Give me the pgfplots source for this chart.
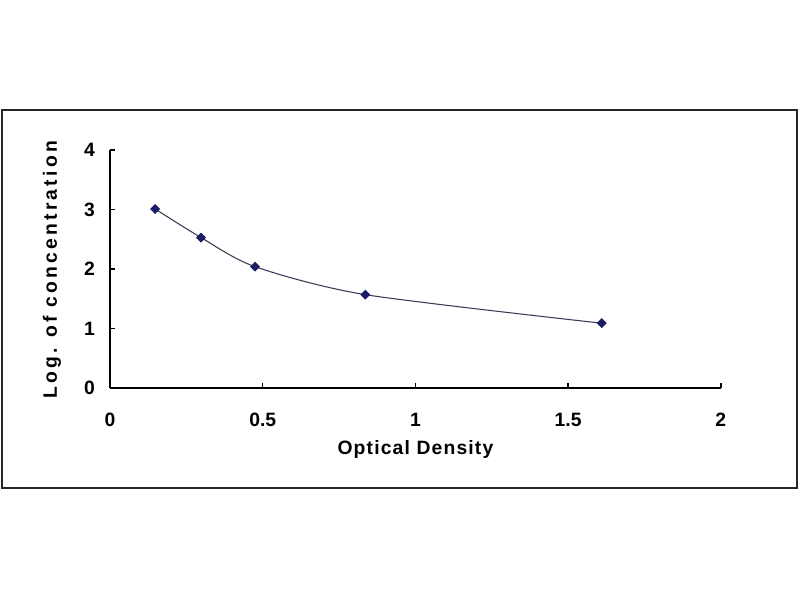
\documentclass[border=0pt]{standalone}
\usepackage{fontspec}
\setmainfont{Liberation Sans}
\newfontfamily\xlabfont[LetterSpace=6]{Liberation Sans}
\newfontfamily\ylabfont[LetterSpace=16.5]{Liberation Sans}
\usepackage{pgfplots}
\pgfplotsset{compat=1.18}
\definecolor{navy}{HTML}{1C1C66}
\definecolor{curve}{HTML}{3A3A55}
\begin{document}
\begin{tikzpicture}[x=0.02cm,y=0.02cm]
\path[fill=white] (0,0) rectangle (800,600);
\draw[line width=1.2pt,draw=black!85] (2,112) rectangle (797,490);
\begin{axis}[
  at={(2.2cm,4.24cm)}, anchor=south west,
  scale only axis, width=12.22cm, height=4.76cm,
  xmin=0, xmax=2, ymin=0, ymax=4,
  axis x line*=bottom, axis y line*=left,
  axis line style={line width=1pt, black, -},
  xtick={0,0.5,1,1.5,2}, ytick={0,1,2,3,4},
  tick align=inside, major tick length=0.1cm,
  tick style={line width=0.8pt, black},
  /pgf/number format/assume math mode=true,
  ticklabel style={font=\fontsize{11}{13}\selectfont\bfseries},
  xticklabel shift=0.38cm, yticklabel shift=0.18cm,
  xlabel={\xlabfont\bfseries Optical Density},
  ylabel={\ylabfont\bfseries Log. of concentration},
  label style={font=\fontsize{11}{13}\selectfont},
  xlabel style={at={(axis description cs:0.5,-0.26)}, anchor=center},
  ylabel style={at={(axis description cs:-0.095,0.496)}, anchor=center, rotate=0},
  clip=false,
]
\addplot[color=curve, line width=0.6pt, smooth, tension=0.45,
  mark=square*, mark size=1.7pt, mark options={fill=navy, draw=navy, rotate=45}]
  coordinates {(0.148,3.01) (0.298,2.53) (0.475,2.04) (0.836,1.57) (1.61,1.09)};
\end{axis}
\end{tikzpicture}
\end{document}
